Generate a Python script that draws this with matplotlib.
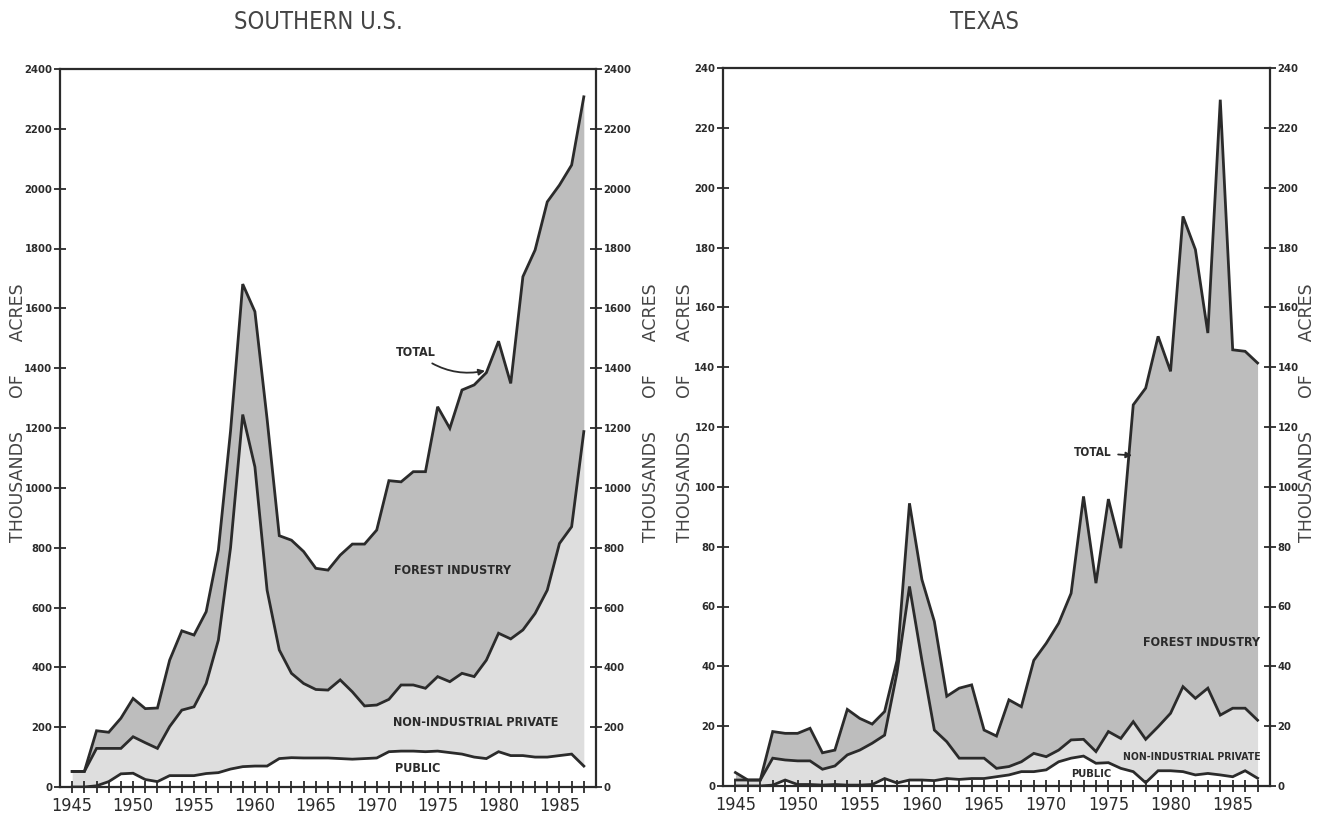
import numpy as np
import matplotlib.pyplot as plt

years = np.arange(1945, 1988)

# Southern U.S., thousands of acres planted, by owner
south_public = [0, 0, 4, 18, 44, 46, 25, 18, 38, 38, 38, 45, 48, 60, 68, 70, 70, 95, 98, 97,
                97, 97, 95, 93, 95, 97, 118, 120, 120, 118, 120, 115, 110, 100, 95, 118, 105,
                105, 100, 100, 105, 110, 70]
south_nip = [52, 52, 125, 111, 85, 122, 123, 111, 164, 219, 230, 301, 443, 740, 1177, 1000,
             588, 363, 282, 249, 229, 227, 263, 225, 176, 177, 175, 221, 221, 212, 249, 237,
             270, 269, 329, 396, 390, 420, 480, 558, 709, 760, 1118]
south_fi = [0, 0, 59, 54, 101, 128, 114, 135, 222, 265, 240, 240, 301, 390, 436, 519, 572,
            382, 445, 441, 405, 401, 417, 494, 541, 585, 731, 679, 713, 724, 902, 847, 947,
            975, 961, 976, 854, 1181, 1215, 1298, 1198, 1209, 1119]

# Texas
tex_public = [0, 0, 0, 0.3, 2, 0.5, 0.5, 0.3, 0.5, 0.3, 0.3, 0.5, 2.5, 1, 2, 2, 1.8, 2.5, 2.2,
              2.5, 2.5, 3.1, 3.7, 4.8, 4.8, 5.4, 8.1, 9.3, 10, 7.6, 7.8, 5.9, 4.8, 1.1, 5.1,
              5.1, 4.8, 3.7, 4.2, 3.7, 3.1, 5.1, 2.6]
tex_nip = [2, 2, 2, 9.0, 6.7, 7.9, 7.9, 5.3, 6.2, 10.1, 11.7, 13.8, 14.5, 37, 64.7, 40, 16.9,
           12.3, 7.1, 6.8, 6.8, 2.8, 2.8, 3.3, 6.1, 4.4, 3.9, 6.1, 5.6, 3.9, 10.4, 10, 16.7,
           14.5, 14.7, 19.2, 28.4, 25.6, 28.5, 20, 22.9, 20.9, 19.4]
tex_fi = [2.5, 0, 0, 8.9, 8.9, 9.2, 10.9, 5.5, 5.3, 15.2, 10.6, 6.4, 7.9, 4, 27.8, 27, 36.3,
          15.2, 23.4, 24.5, 9.4, 10.8, 22.3, 18.4, 31.1, 37.9, 42.4, 49, 81.2, 56.3, 77.7,
          63.6, 105.9, 117.4, 130.5, 114.3, 157.2, 150, 118.7, 205.7, 119.8, 119.3, 119.4]

ink = '#2b2b2b'
cond = dict(family='DejaVu Sans', stretch='condensed')

fig = plt.figure(figsize=(13.17, 8.19), dpi=100)
ax1 = fig.add_axes([60 / 1317, 1 - 787 / 819, 536 / 1317, 718 / 819])
ax2 = fig.add_axes([723 / 1317, 1 - 786 / 819, 547 / 1317, 718 / 819])


def draw(ax, pub, nip, fi, ymax, ystep):
    pub = np.array(pub, float)
    mid = pub + np.array(nip, float)
    tot = mid + np.array(fi, float)
    ax.fill_between(years, pub, mid, color='#dedede', lw=0)
    ax.fill_between(years, mid, tot, color='#bdbdbd', lw=0)
    for s in (pub, mid, tot):
        ax.plot(years, s, color=ink, lw=2, solid_joinstyle='miter')
    ax.set_xlim(1944, 1988)
    ax.set_ylim(0, ymax)
    ax.set_xticks(np.arange(1945, 1986, 5))
    ax.set_xticks(years, minor=True)
    ax.set_yticks(np.arange(0, ymax + 1, ystep))
    ax.tick_params(axis='x', which='both', direction='inout', length=9, width=1.3,
                   color=ink, pad=3)
    ax.tick_params(axis='y', direction='inout', length=9, width=1.3, color=ink,
                   left=True, right=True, labelleft=True, labelright=True, pad=1)
    for lbl in ax.get_xticklabels():
        lbl.set(fontsize=13, color=ink, **cond)
    for lbl in ax.get_yticklabels():
        lbl.set(fontsize=8, fontweight='bold', color=ink, **cond)
    for sp in ax.spines.values():
        sp.set_color(ink)
        sp.set_linewidth(1.6)


draw(ax1, south_public, south_nip, south_fi, 2400, 200)
draw(ax2, tex_public, tex_nip, tex_fi, 240, 20)

lab = dict(fontweight='bold', color=ink, **cond)
ax1.text(1976.2, 725, 'FOREST INDUSTRY', ha='center', va='center', fontsize=9, **lab)
ax1.text(1978.1, 217, 'NON-INDUSTRIAL PRIVATE', ha='center', va='center', fontsize=9, **lab)
ax1.text(1971.5, 63, 'PUBLIC', ha='left', va='center', fontsize=9, **lab)
ax1.annotate('TOTAL', xy=(1979, 1392), xytext=(1971.6, 1454), ha='left', va='center',
             fontsize=9, **lab,
             arrowprops=dict(arrowstyle='-|>', color=ink, lw=1.3,
                             connectionstyle='arc3,rad=0.25', shrinkA=3, shrinkB=1))

ax2.text(1982.5, 47.8, 'FOREST INDUSTRY', ha='center', va='center', fontsize=9, **lab)
ax2.text(1981.7, 9.7, 'NON-INDUSTRIAL PRIVATE', ha='center', va='center', fontsize=7.5, **lab)
ax2.text(1972, 4, 'PUBLIC', ha='left', va='center', fontsize=8, **lab)
ax2.annotate('TOTAL', xy=(1976.9, 110.5), xytext=(1972.2, 111.4), ha='left', va='center',
             fontsize=8.5, **lab,
             arrowprops=dict(arrowstyle='-|>', color=ink, lw=1.3, shrinkA=3, shrinkB=0))

# titles and axis captions
fig.text(318 / 1317, 1 - 22 / 819, 'SOUTHERN U.S.', ha='center', va='center',
         fontsize=17, color='#444444', **cond)
fig.text(985 / 1317, 1 - 22 / 819, 'TEXAS', ha='center', va='center',
         fontsize=17, color='#444444', **cond)

cap = 'THOUSANDS      OF      ACRES'
for xp in (18, 651, 685, 1307):
    fig.text(xp / 1317, 1 - 413 / 819, cap, rotation=90, ha='center', va='center',
             fontsize=12.5, color='#444444')

fig.savefig('out.png', dpi=100)
